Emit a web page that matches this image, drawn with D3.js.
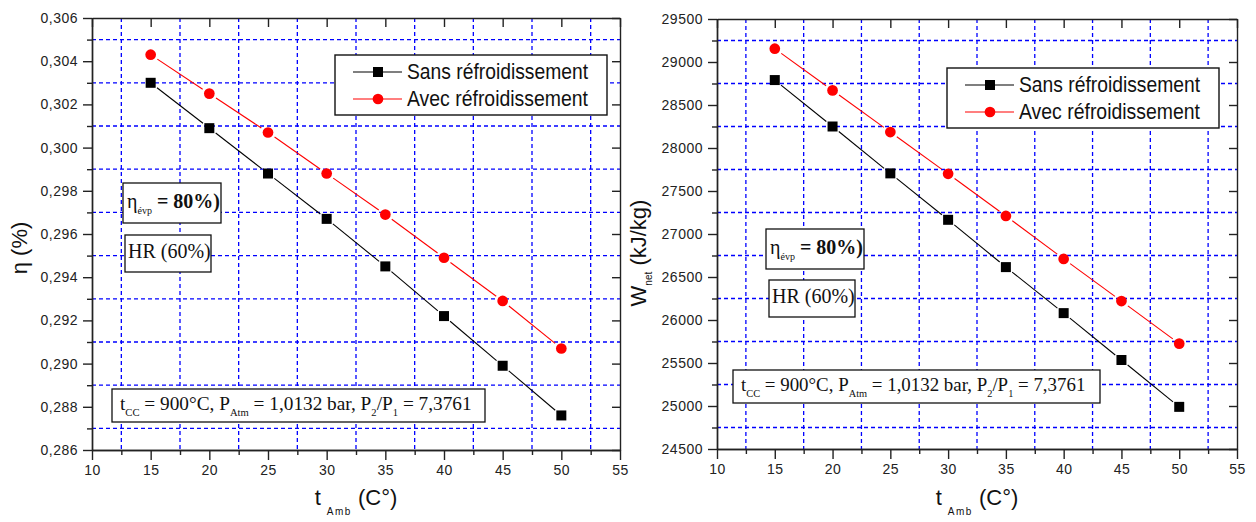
<!DOCTYPE html>
<html lang="fr">
<head>
<meta charset="UTF-8">
<title>Rendement et travail net</title>
<script src="https://cdn.jsdelivr.net/npm/d3@7/dist/d3.min.js"></script>
<style>
  body { margin: 0; background: #fff; }
  svg { display: block; }
  .tick text { font-family: Arial, "Liberation Sans", sans-serif; font-size: 14px; fill: #222; letter-spacing: 0.5px; }
  .axis path, .axis line { stroke: #222; stroke-width: 1.4; }
  .grid line { stroke: #0000ff; stroke-width: 1.3; stroke-dasharray: 4 3; }
  .note { font-family: "Times New Roman", "Liberation Serif", serif; font-size: 20px; fill: #111; }
  .title { font-family: Arial, "Liberation Sans", sans-serif; font-size: 22px; fill: #111; }
</style>
</head>
<body>
<svg id="chart" width="1256" height="522"></svg>
<script>
// ambient temperature (°C)
const temps = [15, 20, 25, 30, 35, 40, 45, 50];
// efficiency
const etaSans = [0.3030, 0.3009, 0.2988, 0.2967, 0.2945, 0.2922, 0.2899, 0.2876];
const etaAvec = [0.3043, 0.3025, 0.3007, 0.2988, 0.2969, 0.2949, 0.2929, 0.2907];
// net work (kJ/kg)
const wSans = [28790, 28250, 27705, 27165, 26615, 26080, 25535, 24990];
const wAvec = [29155, 28670, 28185, 27700, 27210, 26710, 26220, 25725];

const seriesNames = ["Sans réfroidissement", "Avec réfroidissement"];
const xTicks = [10, 15, 20, 25, 30, 35, 40, 45, 50, 55];
const xMinor = [12.5, 17.5, 22.5, 27.5, 32.5, 37.5, 42.5, 47.5, 52.5];
const etaTicks = [0.286, 0.288, 0.290, 0.292, 0.294, 0.296, 0.298, 0.300, 0.302, 0.304, 0.306];
const etaMinor = [0.287, 0.289, 0.291, 0.293, 0.295, 0.297, 0.299, 0.301, 0.303, 0.305];
const wTicks = [24500, 25000, 25500, 26000, 26500, 27000, 27500, 28000, 28500, 29000, 29500];
const wMinor = [24750, 25250, 25750, 26250, 26750, 27250, 27750, 28250, 28750, 29250];

const svg = d3.select("#chart");

function panel(cfg) {
  const x = d3.scaleLinear().domain([10, 55]).range([cfg.left, cfg.right]);
  const y = d3.scaleLinear().domain(cfg.yDomain).range([cfg.bottom, cfg.top]);
  const g = svg.append("g");

  // dashed blue grid on the minor ticks
  const grid = g.append("g").attr("class", "grid");
  grid.selectAll(".gx").data(xMinor).join("line")
    .attr("x1", d => x(d)).attr("x2", d => x(d))
    .attr("y1", cfg.top).attr("y2", cfg.bottom);
  grid.selectAll(".gy").data(cfg.yMinor).join("line")
    .attr("y1", d => y(d)).attr("y2", d => y(d))
    .attr("x1", cfg.left).attr("x2", cfg.right);

  // axes
  g.append("g").attr("class", "axis").attr("transform", `translate(0,${cfg.bottom})`)
    .call(d3.axisBottom(x).tickValues(xTicks).tickSize(10).tickPadding(5).tickSizeOuter(0).tickFormat(d3.format("d")));
  g.append("g").attr("class", "axis").attr("transform", `translate(0,${cfg.bottom})`)
    .call(d3.axisBottom(x).tickValues(xMinor).tickSize(5).tickFormat("").tickSizeOuter(0));
  g.append("g").attr("class", "axis").attr("transform", `translate(0,${cfg.top})`)
    .call(d3.axisTop(x).tickValues(xTicks).tickSize(-9).tickFormat("").tickSizeOuter(0));
  g.append("g").attr("class", "axis").attr("transform", `translate(${cfg.left},0)`)
    .call(d3.axisLeft(y).tickValues(cfg.yTicks).tickSize(9).tickPadding(5).tickSizeOuter(0).tickFormat(cfg.fmt));
  g.append("g").attr("class", "axis").attr("transform", `translate(${cfg.left},0)`)
    .call(d3.axisLeft(y).tickValues(cfg.yMinor).tickSize(5).tickFormat("").tickSizeOuter(0));
  g.append("g").attr("class", "axis").attr("transform", `translate(${cfg.right},0)`)
    .call(d3.axisRight(y).tickValues(cfg.yTicks).tickSize(-8).tickFormat("").tickSizeOuter(0));

  // lines with small gaps around markers (Origin style)
  cfg.series.forEach((vals, si) => {
    const color = si === 0 ? "#000" : "#ff0000";
    const pts = temps.map((t, i) => [x(t), y(vals[i])]);
    const segs = d3.pairs(pts).map(([a, b]) => {
      const dx = b[0] - a[0], dy = b[1] - a[1], L = Math.hypot(dx, dy), gap = 8;
      return [a[0] + dx * gap / L, a[1] + dy * gap / L, b[0] - dx * gap / L, b[1] - dy * gap / L];
    });
    g.append("g").selectAll("line").data(segs).join("line")
      .attr("x1", d => d[0]).attr("y1", d => d[1]).attr("x2", d => d[2]).attr("y2", d => d[3])
      .attr("stroke", color).attr("stroke-width", 1.1);
    const m = g.append("g").selectAll("path").data(pts).join("path")
      .attr("transform", d => `translate(${d[0]},${d[1]})`)
      .attr("fill", color);
    if (si === 0) m.attr("d", "M-5,-5h10v10h-10z");
    else m.attr("d", d3.symbol(d3.symbolCircle, 90)());
  });

  // legend
  const lg = g.append("g").attr("transform", `translate(${cfg.left + cfg.legend[0]},${cfg.top + cfg.legend[1]})`);
  lg.append("rect").attr("width", 272).attr("height", 60)
    .attr("fill", "#fff").attr("stroke", "#111").attr("stroke-width", 1.4);
  seriesNames.forEach((name, i) => {
    const color = i === 0 ? "#000" : "#ff0000";
    const yy = 17 + i * 27;
    lg.append("line").attr("x1", 18).attr("x2", 67).attr("y1", yy).attr("y2", yy)
      .attr("stroke", color).attr("stroke-width", 1.1);
    const mk = lg.append("path").attr("transform", `translate(43,${yy})`).attr("fill", color);
    if (i === 0) mk.attr("d", "M-5,-5h10v10h-10z");
    else mk.attr("d", d3.symbol(d3.symbolCircle, 90)());
    lg.append("text").attr("class", "title").attr("x", 72).attr("y", yy + 7)
      .attr("textLength", 181).attr("lengthAdjust", "spacingAndGlyphs").text(name);
  });

  // annotation boxes
  function box(bx, by, bw, bh, build) {
    const b = g.append("g").attr("transform", `translate(${bx},${by})`);
    b.append("rect").attr("width", bw).attr("height", bh)
      .attr("fill", "#fff").attr("stroke", "#111").attr("stroke-width", 1.3);
    const t = b.append("text").attr("class", "note");
    build(t);
  }
  const a = cfg.notes;
  box(a.eta[0], a.eta[1], 98, 40, t => {
    t.attr("x", 4).attr("y", 25);
    t.append("tspan").text("η");
    t.append("tspan").attr("font-size", "10px").attr("dy", 6).text("évp");
    t.append("tspan").attr("font-weight", "bold").attr("dy", -6).text(" = 80%)");
  });
  box(a.hr[0], a.hr[1], 86, 37, t => {
    t.attr("x", 3).attr("y", 23).text("HR (60%)");
  });
  box(a.cond[0], a.cond[1], a.cond[2], 33, t => {
    t.attr("x", 8).attr("y", 21).style("font-size", a.cond[3] + "px");
    const sub = 0.55 * a.cond[3];
    t.append("tspan").text("t");
    t.append("tspan").attr("font-size", sub + "px").attr("dy", 6).text("CC");
    t.append("tspan").attr("dy", -6).text(" = 900°C, P");
    t.append("tspan").attr("font-size", sub + "px").attr("dy", 6).text("Atm");
    t.append("tspan").attr("dy", -6).text(" = 1,0132 bar, P");
    t.append("tspan").attr("font-size", sub + "px").attr("dy", 6).text("2");
    t.append("tspan").attr("dy", -6).text("/P");
    t.append("tspan").attr("font-size", sub + "px").attr("dy", 6).text("1");
    t.append("tspan").attr("dy", -6).text(" = 7,3761");
  });

  // axis titles
  const xt = g.append("text").attr("class", "title").attr("text-anchor", "middle")
    .attr("x", (cfg.left + cfg.right) / 2).attr("y", 505);
  xt.append("tspan").text("t ");
  xt.append("tspan").attr("font-size", "10px").attr("letter-spacing", "1.5px").attr("dy", 10).text("Amb");
  xt.append("tspan").attr("dy", -10).text(" (C°)");

  const yt = g.append("text").attr("class", "title").attr("text-anchor", "middle")
    .attr("transform", `translate(${cfg.yTitleX},${cfg.yTitleY}) rotate(-90)`);
  cfg.yTitle(yt);
}

panel({
  left: 92, right: 620, top: 18, bottom: 450,
  yDomain: [0.286, 0.306], yTicks: etaTicks, yMinor: etaMinor,
  fmt: d => d3.format(".3f")(d).replace(".", ","),
  series: [etaSans, etaAvec],
  legend: [243, 37],
  notes: { eta: [123, 183], hr: [125, 235], cond: [112, 389, 373, 19.3] },
  yTitleX: 27, yTitleY: 248,
  yTitle: t => t.text("η (%)")
});

panel({
  left: 717, right: 1237, top: 19, bottom: 449,
  yDomain: [24500, 29500], yTicks: wTicks, yMinor: wMinor,
  fmt: d3.format("d"),
  series: [wSans, wAvec],
  legend: [230, 49],
  notes: { eta: [766, 229], hr: [769, 280], cond: [733, 370, 367, 18.9] },
  yTitleX: 646, yTitleY: 253,
  yTitle: t => {
    t.append("tspan").text("W");
    t.append("tspan").attr("font-size", "10px").attr("dy", 6).text("net");
    t.append("tspan").attr("dy", -6).text(" (kJ/kg)");
  }
});
</script>
</body>
</html>
